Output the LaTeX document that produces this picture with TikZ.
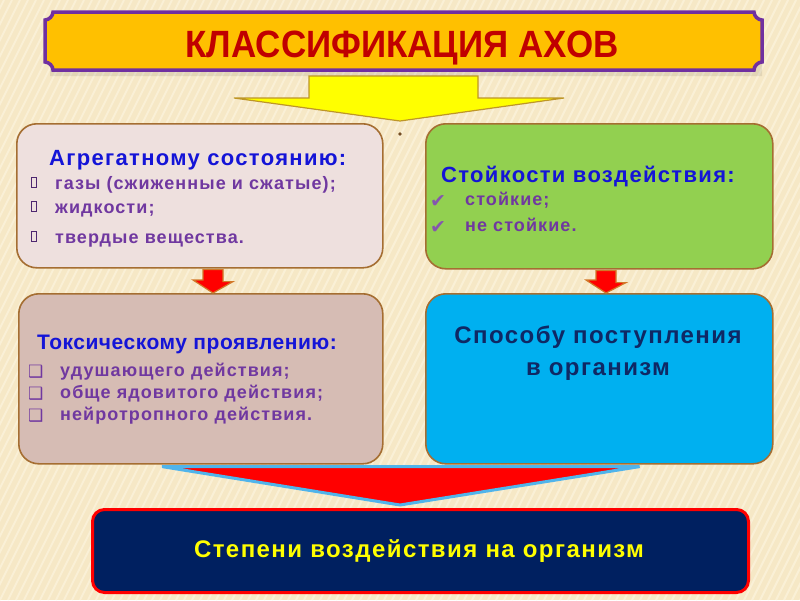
\documentclass[tikz,border=0pt]{standalone}
\usepackage{fontspec}
\setmainfont{Liberation Sans}
\newfontfamily\bodyf{Liberation Sans}
\newfontfamily\sym{DejaVu Sans}
\usetikzlibrary{calc}
\definecolor{bgc}{RGB}{246,232,198}
\definecolor{stripec}{RGB}{252,244,222}
\definecolor{titlefill}{RGB}{255,192,0}
\definecolor{titleborder}{RGB}{112,48,160}
\definecolor{titletext}{RGB}{192,0,0}
\definecolor{brownb}{RGB}{165,110,50}
\definecolor{yarrowc}{RGB}{255,255,0}
\definecolor{yarrowb}{RGB}{190,150,40}
\definecolor{boxA}{RGB}{238,224,222}
\definecolor{boxB}{RGB}{146,208,80}
\definecolor{boxC}{RGB}{214,188,180}
\definecolor{boxD}{RGB}{0,176,240}
\definecolor{headblue}{RGB}{20,20,215}
\definecolor{itempurple}{RGB}{112,56,160}
\definecolor{navytext}{RGB}{15,40,100}
\definecolor{navy}{RGB}{0,32,96}
\definecolor{lblue}{RGB}{80,180,235}
\definecolor{redc}{RGB}{255,0,0}
\definecolor{arrowb}{RGB}{210,120,40}
\tikzset{
  catbox/.style={draw=brownb, line width=1.6pt, rounded corners=20pt, anchor=north west, inner sep=0pt},
  headtxt/.style={anchor=base west, inner sep=0pt, text=headblue, font=\bodyf\addfontfeature{LetterSpace=6}\fontsize{22}{26}\selectfont\bfseries},
  itemtxt/.style={anchor=base west, inner sep=0pt, text=itempurple, font=\bodyf\addfontfeature{LetterSpace=6}\fontsize{18}{21}\selectfont\bfseries},
  symtxt/.style={anchor=base west, inner sep=0pt, text=itempurple, font=\sym\fontsize{15}{17}\selectfont},
  checktxt/.style={anchor=base west, inner sep=0pt, text=itempurple!85, font=\sym\fontsize{19}{21}\selectfont},
  tofu/.style={draw=itempurple!70!black, line width=0.7pt},
  rarrow/.style={fill=redc, draw=arrowb, line width=1.2pt, line join=miter},
}
\begin{document}
\begin{tikzpicture}[x=1pt,y=-1pt]
\useasboundingbox (0,0) rectangle (800,600);
\fill[bgc] (0,0) rectangle (800,600);
\begin{scope}
\clip (0,0) rectangle (800,600);
\foreach \i in {-400,-392,...,800} {
  \draw[stripec, line width=2pt, opacity=0.7] (\i,600) -- (\i+300,0);
}
\end{scope}

% title plaque (soft shadow, then plaque)
\fill[black, opacity=0.08] (56,20) -- (758,20) -- (762,28) -- (762,76) -- (50,76) -- (50,28) -- cycle;
\draw[titleborder, line width=3.5pt, fill=titlefill]
  (53,12) -- (754,12) .. controls (754,16) and (758,20) .. (762,20)
  -- (762,62) .. controls (758,62) and (754,66) .. (754,70)
  -- (53,70) .. controls (53,66) and (49,62) .. (45,62)
  -- (45,20) .. controls (49,20) and (53,16) .. (53,12) -- cycle;
\node[text=titletext, inner sep=0pt, anchor=base] (title) at (402,57)
  {\fontsize{38}{42}\selectfont\bfseries\scalebox{0.92}[1]{КЛАССИФИКАЦИЯ АХОВ}};

% yellow arrow
\draw[yarrowb, line width=1.2pt, fill=yarrowc, line join=miter]
  (309,76) -- (478,76) -- (478,98) -- (564,98) -- (400,121) -- (234,98) -- (309,98) -- cycle;
\fill[brownb!70!black] (400,134) circle (1.8);

% boxes
\node[catbox, fill=boxA, minimum width=366pt, minimum height=144pt] (agg) at (16,123) {};
\node[catbox, fill=boxB, minimum width=347pt, minimum height=145pt] (stk) at (425,123) {};
\node[catbox, fill=boxC, minimum width=364pt, minimum height=170pt] (tox) at (18,293) {};
\node[catbox, fill=boxD, minimum width=347pt, minimum height=170pt] (way) at (425,293) {};

% small red arrows
\draw[rarrow] ($(agg.south west)+(187,1)$) -- ++(20,0) -- ++(0,12) -- ++(10,0)
  -- ($(tox.north west)+(195,0)$) -- ++(-20,-13) -- ++(10,0) -- cycle;
\draw[rarrow] ($(stk.south west)+(171,1)$) -- ++(20,0) -- ++(0,12) -- ++(10,0)
  -- ($(way.north west)+(181,0)$) -- ++(-20,-13) -- ++(10,0) -- cycle;

% box 1 text
\node[headtxt] (aggh) at (49,165) {Агрегатному состоянию:};
\node[itemtxt] (agg1) at (55,189) {газы (сжиженные и сжатые);};
\node[itemtxt] (agg2) at (55,213) {жидкости;};
\node[itemtxt] (agg3) at (55,243) {твердые вещества.};
\draw[tofu] (31,177) rectangle (36,187);
\draw[tofu] (31,201) rectangle (36,211);
\draw[tofu] (31,231) rectangle (36,241);

% box 2 text
\node[headtxt] (stkh) at (441,182) {Стойкости воздействия:};
\node[checktxt] (c1) at (430,207) {✔};
\node[itemtxt] (stk1) at (465,205) {стойкие;};
\node[checktxt] (c2) at (430,233) {✔};
\node[itemtxt] (stk2) at (465,231) {не стойкие.};

% box 3 text
\node[headtxt, font=\bodyf\addfontfeature{LetterSpace=2.5}\fontsize{21}{25}\selectfont\bfseries] (toxh) at (37,349) {Токсическому проявлению:};
\node[symtxt, font=\sym\fontsize{17}{19}\selectfont] (q1) at (28,377) {❑};
\node[itemtxt] (tox1) at (60,376) {удушающего действия;};
\node[symtxt, font=\sym\fontsize{17}{19}\selectfont] (q2) at (28,399) {❑};
\node[itemtxt] (tox2) at (60,398) {обще ядовитого действия;};
\node[symtxt, font=\sym\fontsize{17}{19}\selectfont] (q3) at (28,421) {❑};
\node[itemtxt] (tox3) at (60,420) {нейротропного действия.};

% box 4 text
\node[anchor=base, inner sep=0pt, text=navytext,
  font=\bodyf\addfontfeature{LetterSpace=6}\fontsize{24}{28}\selectfont\bfseries] (wayt1) at (598,343)
  {Способу поступления};
\node[anchor=base, inner sep=0pt, text=navytext,
  font=\bodyf\addfontfeature{LetterSpace=6}\fontsize{24}{28}\selectfont\bfseries] (wayt2) at (598,375)
  {в организм};

% big triangle
\draw[lblue, line width=3pt, fill=redc, line join=miter]
  ($(tox.south west)+(144,2)$) -- ($(way.south east)+(-134,2)$) -- (400,505) -- cycle;

% bottom box
\node[draw=redc, line width=3pt, fill=navy, rounded corners=12pt, anchor=north west,
  minimum width=656pt, minimum height=83pt, inner sep=0pt] (deg) at (91,508) {};
\node[text=yarrowc, inner sep=0pt, anchor=base,
  font=\bodyf\addfontfeature{LetterSpace=6}\fontsize{24}{28}\selectfont\bfseries] (degt) at (419,557)
  {Степени воздействия на организм};
\end{tikzpicture}
\end{document}
